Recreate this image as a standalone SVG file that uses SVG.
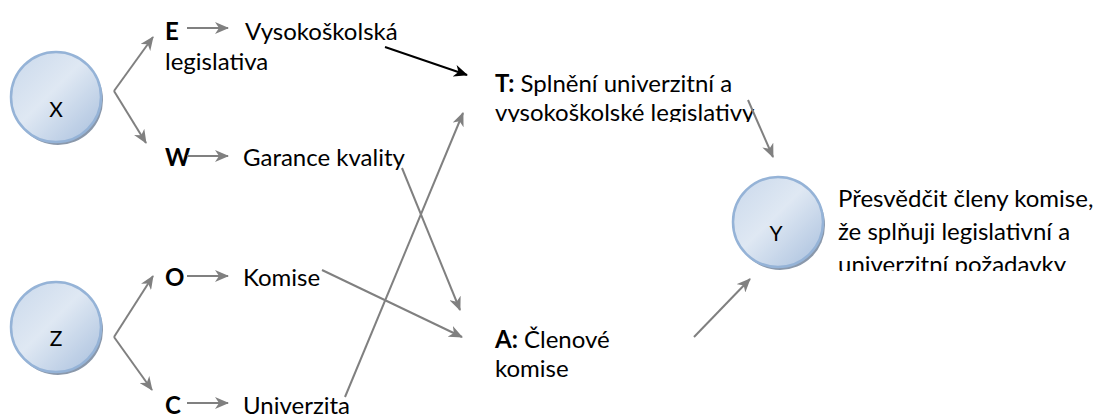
<svg xmlns="http://www.w3.org/2000/svg" width="1102" height="419" viewBox="0 0 1102 419">
  <defs>
    <linearGradient id="ballFill" x1="0" y1="0" x2="1" y2="1">
      <stop offset="0" stop-color="#c9d8eb"/>
      <stop offset="0.45" stop-color="#dfe8f3"/>
      <stop offset="1" stop-color="#a8bfdd"/>
    </linearGradient>
    <marker id="headGray" markerUnits="userSpaceOnUse" viewBox="0 0 14 12" markerWidth="14" markerHeight="12" refX="13" refY="6" orient="auto">
      <path d="M0,0 L14,6 L0,12 L4,6 z" fill="#808080"/>
    </marker>
    <marker id="headBlack" markerUnits="userSpaceOnUse" viewBox="0 0 14 12" markerWidth="14" markerHeight="12" refX="13" refY="6" orient="auto">
      <path d="M0,0 L14,6 L0,12 L4,6 z" fill="#000"/>
    </marker>
    <clipPath id="clipT"><rect x="480" y="60" width="320" height="62"/></clipPath>
    <clipPath id="clipY"><rect x="830" y="180" width="272" height="91"/></clipPath>
  </defs>
  <style>
    text { font-family: Lato, "Liberation Sans", sans-serif; font-size: 24px; fill: #000; }
    .b { font-weight: bold; }
    .lbl { text-anchor: middle; font-size: 21px; }
    .shadow { fill: #8a98ab; }
    .ball { fill: url(#ballFill); stroke: #95b3d7; stroke-width: 2.5; }
    .c { stroke: #808080; stroke-width: 2; fill: none; marker-end: url(#headGray); }
    .k { stroke: #000; stroke-width: 2; fill: none; marker-end: url(#headBlack); }
  </style>

  <!-- circles -->
  <g id="nodeX">
    <circle class="shadow" cx="58" cy="100" r="45"/>
    <circle class="ball" cx="56" cy="97" r="45"/>
    <text class="lbl" x="56" y="117">X</text>
  </g>
  <g id="nodeZ">
    <circle class="shadow" cx="58" cy="330" r="45"/>
    <circle class="ball" cx="56" cy="327" r="45"/>
    <text class="lbl" x="56" y="346">Z</text>
  </g>
  <g id="nodeY">
    <circle class="shadow" cx="780" cy="225" r="45"/>
    <circle class="ball" cx="778" cy="222" r="45"/>
    <text class="lbl" x="776" y="241">Y</text>
  </g>

  <!-- text nodes -->
  <g id="nodeE">
    <text class="b" x="165" y="40">E</text>
    <text x="245" y="40">Vysokoškolská</text>
    <text x="165" y="70">legislativa</text>
  </g>
  <g id="nodeW">
    <text class="b" x="165" y="166">W</text>
    <text x="243" y="166">Garance kvality</text>
  </g>
  <g id="nodeO">
    <text class="b" x="165" y="286">O</text>
    <text x="243" y="286">Komise</text>
  </g>
  <g id="nodeC">
    <text class="b" x="165" y="414">C</text>
    <text x="243" y="414">Univerzita</text>
  </g>
  <g id="nodeT" clip-path="url(#clipT)">
    <text x="495" y="92"><tspan class="b">T:</tspan> Splnění univerzitní a</text>
    <text x="495" y="121">vysokoškolské legislativy</text>
  </g>
  <g id="nodeA">
    <text x="495" y="348"><tspan class="b">A:</tspan> Členové</text>
    <text x="495" y="377">komise</text>
  </g>
  <g id="nodeGoal" clip-path="url(#clipY)">
    <text x="838" y="207">Přesvědčit členy komise,</text>
    <text x="838" y="240">že splňuji legislativní a</text>
    <text x="838" y="273">univerzitní požadavky</text>
  </g>

  <!-- connectors -->
  <g id="connectors">
    <path class="c" d="M114,91 L153,37"/>
    <path class="c" d="M114,91 L146,143"/>
    <path class="c" d="M114,337 L153,276"/>
    <path class="c" d="M114,337 L152,390"/>
    <path class="c" d="M187,28 L228,28"/>
    <path class="c" d="M187,156 L228,156"/>
    <path class="c" d="M187,276 L228,276"/>
    <path class="c" d="M187,403 L228,403"/>
    <path class="k" d="M385,47 L467,75"/>
    <path class="c" d="M345,397 L463,113"/>
    <path class="c" d="M402,168 L460,310"/>
    <path class="c" d="M322,270 L462,337"/>
    <path class="c" d="M748,100 L773,157"/>
    <path class="c" d="M694,337 L750,279"/>
  </g>
</svg>
